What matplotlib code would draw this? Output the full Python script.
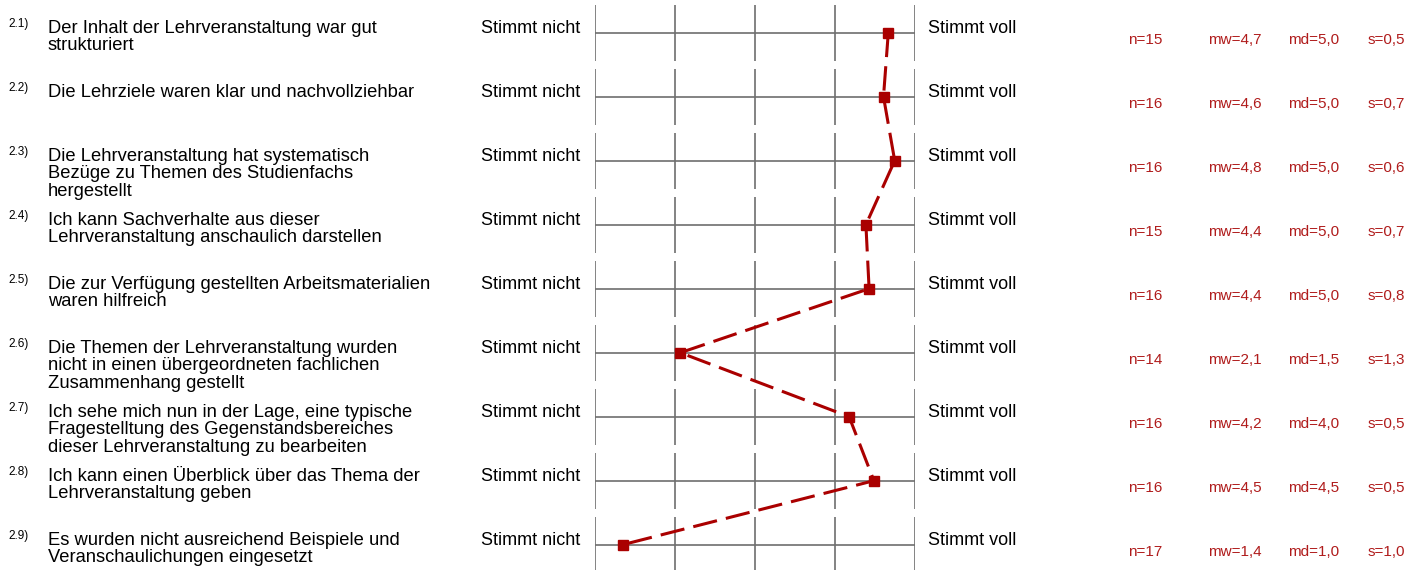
import matplotlib
matplotlib.use("Agg")
import matplotlib.pyplot as plt
from matplotlib import transforms

plt.rcParams['font.family'] = ['Liberation Sans', 'DejaVu Sans']

# Daten
nummern = ['2.1)', '2.2)', '2.3)', '2.4)', '2.5)', '2.6)', '2.7)', '2.8)', '2.9)']
fragen = [
    "Der Inhalt der Lehrveranstaltung war gut\nstrukturiert",
    "Die Lehrziele waren klar und nachvollziehbar",
    "Die Lehrveranstaltung hat systematisch\nBezüge zu Themen des Studienfachs\nhergestellt",
    "Ich kann Sachverhalte aus dieser\nLehrveranstaltung anschaulich darstellen",
    "Die zur Verfügung gestellten Arbeitsmaterialien\nwaren hilfreich",
    "Die Themen der Lehrveranstaltung wurden\nnicht in einen übergeordneten fachlichen\nZusammenhang gestellt",
    "Ich sehe mich nun in der Lage, eine typische\nFragestelltung des Gegenstandsbereiches\ndieser Lehrveranstaltung zu bearbeiten",
    "Ich kann einen Überblick über das Thema der\nLehrveranstaltung geben",
    "Es wurden nicht ausreichend Beispiele und\nVeranschaulichungen eingesetzt",
]
mittelwerte = [4.67, 4.61, 4.75, 4.39, 4.43, 2.07, 4.18, 4.49, 1.35]
n_werte = ['15', '16', '16', '15', '16', '14', '16', '16', '17']
mw_werte = ['4,7', '4,6', '4,8', '4,4', '4,4', '2,1', '4,2', '4,5', '1,4']
md_werte = ['5,0', '5,0', '5,0', '5,0', '5,0', '1,5', '4,0', '4,5', '1,0']
s_werte = ['0,5', '0,7', '0,6', '0,7', '0,8', '1,3', '0,5', '0,5', '1,0']
skala = [1, 2, 3, 4, 5]
pol_links = 'Stimmt nicht'
pol_rechts = 'Stimmt voll'

W, H = 1423, 570
ROW = 64.0      # Zeilenabstand in Pixel
TOP = 32.7      # y der ersten Zeile in Pixel
grau = '#6e6e6e'
rot = '#aa0000'
rot_text = '#b01c1c'

fig = plt.figure(figsize=(W / 100, H / 100), dpi=100)
ax = fig.add_axes([594.7 / W, 0, 320 / W, 1])
ax.set_xlim(1, 5)
ax.set_ylim((H - TOP) / ROW, -TOP / ROW)
ax.axis('off')

zeilen = list(range(len(fragen)))
for i in zeilen:
    ax.hlines(i, skala[0], skala[-1], color=grau, lw=1.2)
    ax.vlines(skala, i - 28 / ROW, i + 28 / ROW, color=grau, lw=1.2)

ax.plot(mittelwerte, zeilen, color=rot, lw=2.2, dashes=(8, 3), zorder=3)
ax.plot(mittelwerte, zeilen, 's', color=rot, ms=6.8, zorder=4)

# x in Pixel, y in Zeilen
tx = transforms.blended_transform_factory(
    transforms.Affine2D().scale(1 / W, 1) + fig.transFigure, ax.transData)

for i in zeilen:
    fig.text(8, i - 6 / ROW, nummern[i], transform=tx, fontsize=8.5,
             va='baseline', ha='left')
    for k, zeile in enumerate(fragen[i].split('\n')):
        fig.text(48, i + (0.3 + k * 17.3) / ROW, zeile, transform=tx,
                 fontsize=13.2, va='baseline', ha='left')
    fig.text(580.7, i + 0.5 / ROW, pol_links, transform=tx, fontsize=13,
             va='baseline', ha='right')
    fig.text(928.3, i + 0.5 / ROW, pol_rechts, transform=tx, fontsize=13,
             va='baseline', ha='left')
    y_st = i + 11.5 / ROW
    fig.text(1128, y_st, 'n=' + n_werte[i], transform=tx, fontsize=11,
             color=rot_text, va='baseline')
    fig.text(1208, y_st, 'mw=' + mw_werte[i], transform=tx, fontsize=11,
             color=rot_text, va='baseline')
    fig.text(1288, y_st, 'md=' + md_werte[i], transform=tx, fontsize=11,
             color=rot_text, va='baseline')
    fig.text(1368, y_st, 's=' + s_werte[i], transform=tx, fontsize=11,
             color=rot_text, va='baseline')

fig.savefig('out.png', dpi=100)
